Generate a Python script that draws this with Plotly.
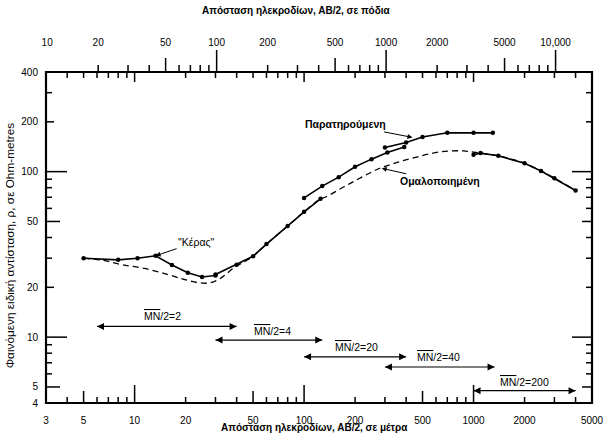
import numpy as np
import plotly.graph_objects as go

# ---------------- data ----------------
# observed apparent resistivity, one segment per MN/2 spacing
seg1_x = [5, 8, 10.4, 13.3, 16.6, 20.6, 25, 30]
seg1_y = [30, 29.3, 30, 31, 27.3, 24.5, 23.1, 23.6]
seg2_x = [30, 40, 50, 60, 80, 100, 125]
seg2_y = [23.9, 27.4, 30.8, 36.5, 46.9, 57.2, 68.5]
seg3_x = [100, 128, 160, 200, 250, 310, 390]
seg3_y = [69.4, 81.8, 92.6, 107, 119, 130.6, 141]
seg4_x = [300, 400, 500, 700, 1000, 1300]
seg4_y = [140, 150, 162, 171.6, 171.6, 171.6]
seg5_x = [1000, 1100, 1400, 2000, 2500, 3000, 4000]
seg5_y = [126.4, 129.4, 124.7, 112.3, 101, 91.3, 77]

# smoothed curve
smooth_x = [5, 6.5, 8.4, 11.5, 15.7, 19.7, 24, 28, 32, 38.5, 45, 50, 60, 80, 100, 125,
            134, 171, 219, 280, 358, 468, 640, 875, 950, 1100, 1400, 2000, 2500, 3000, 4000]
smooth_y = [30, 29.1, 27.4, 26.0, 23.9, 22.3, 21.3, 21.3, 22.6, 26.2, 28.8, 30.8, 36.5, 46.9, 57.2, 68.5,
            70.3, 80.7, 92.6, 104.8, 114, 123, 131.7, 133.6, 132, 129.4, 124.7, 112.3, 101, 91.3, 77]

# MN/2 spacing ranges
mn_names = ["2", "4", "20", "40", "200"]
mn_start = [6, 30, 100, 300, 1000]
mn_end = [40, 128, 400, 1330, 4000]
mn_level = [11.6, 9.6, 7.6, 6.6, 4.75]

# tick labels and tick positions
xm_ticks = [3, 5, 10, 20, 50, 100, 200, 500, 1000, 2000, 5000]
xm_text = ["3", "5", "10", "20", "50", "100", "200", "500", "1000", "2000", "5000"]
xm_decade = [10, 100, 1000]
xm_five = [5, 50, 500]
xm_small = [4, 6, 7, 8, 9, 20, 30, 40, 60, 70, 80, 90, 200, 300, 400, 600, 700, 800,
            900, 2000, 3000, 4000]
xf_ticks = [10, 20, 50, 100, 200, 500, 1000, 2000, 5000, 10000]
xf_text = ["10", "20", "50", "100", "200", "500", "1000", "2000", "5000", "10,000"]
xf_decade = [100, 1000, 10000]
xf_five = [50, 500, 5000]
xf_small = [20, 30, 40, 60, 70, 80, 90, 200, 300, 400, 600, 700, 800, 900, 2000, 3000,
            4000, 6000, 7000, 8000, 9000]
y_ticks = [4, 5, 10, 20, 50, 100, 200, 400]
y_text = ["4", "5", "10", "20", "50", "100", "200", "400"]
y_decade = [10, 100]
y_five = [5, 50]
y_two = [20, 200]
y_small = [6, 7, 8, 9, 30, 40, 60, 70, 80, 90, 300]

FT = 0.3048
L = np.log10
FONT = "Liberation Sans, Arial, sans-serif"
X_LO, X_HI = 3, 5000
F_LO, F_HI = 3 / FT, 5000 / FT
Y_LO, Y_HI = 4, 400

fig = go.Figure()

fig.add_trace(go.Scatter(x=smooth_x, y=smooth_y, mode="lines",
                         line=dict(color="black", width=1.3, dash="6px,4px"),
                         line_shape="spline"))
for sx, sy in [(seg1_x, seg1_y), (seg2_x, seg2_y), (seg3_x, seg3_y),
               (seg4_x, seg4_y), (seg5_x, seg5_y)]:
    fig.add_trace(go.Scatter(x=sx, y=sy, mode="lines+markers",
                             line=dict(color="black", width=1.6),
                             marker=dict(color="black", size=4.5)))

for s, e, lv in zip(mn_start, mn_end, mn_level):
    fig.add_trace(go.Scatter(x=[s, e], y=[lv, lv], mode="lines+markers",
                             line=dict(color="black", width=1.2),
                             marker=dict(symbol=["arrow-left", "arrow-right"], size=7,
                                         color="black")))

# dummy trace so the top (feet) axis exists
fig.add_trace(go.Scatter(x=[None], y=[None], xaxis="x2", yaxis="y", mode="lines"))


def frac(v, lo, hi):
    return (L(v) - L(lo)) / (L(hi) - L(lo))


shapes = []


def xticks(vals, lo, hi, anchor, length, w=1.5):
    for v in vals:
        f = frac(v, lo, hi)
        if 0 < f < 1:
            shapes.append(dict(type="line", xref="paper", yref="paper", x0=f, x1=f,
                               ysizemode="pixel", yanchor=anchor, y0=0, y1=length,
                               line=dict(color="black", width=w), layer="above"))


def yticks(vals, lo, hi, anchor, length, w=1.5):
    for v in vals:
        f = frac(v, lo, hi)
        if 0 < f < 1:
            shapes.append(dict(type="line", xref="paper", yref="paper", y0=f, y1=f,
                               xsizemode="pixel", xanchor=anchor, x0=0, x1=length,
                               line=dict(color="black", width=w), layer="above"))


# bottom (metres), pointing up into the plot
xticks(xm_decade, X_LO, X_HI, 0, 18)
xticks(xm_five, X_LO, X_HI, 0, 12)
xticks(xm_small, X_LO, X_HI, 0, 6)
# metres mirrored on top, pointing down
xticks(xm_decade, X_LO, X_HI, 1, -10)
xticks(xm_five + xm_small, X_LO, X_HI, 1, -6)
# top (feet), pointing up out of the plot
xticks(xf_decade, F_LO, F_HI, 1, 22)
xticks(xf_five, F_LO, F_HI, 1, 14)
xticks(xf_small, F_LO, F_HI, 1, 7)
# left, pointing right
yticks(y_decade, Y_LO, Y_HI, 0, 21)
yticks(y_five, Y_LO, Y_HI, 0, 14)
yticks(y_two, Y_LO, Y_HI, 0, 8)
yticks(y_small, Y_LO, Y_HI, 0, 6)
# right, pointing left
yticks(y_decade, Y_LO, Y_HI, 1, -20)
yticks(y_five, Y_LO, Y_HI, 1, -10)
yticks(y_two + y_small, Y_LO, Y_HI, 1, -6)
# frame
shapes.append(dict(type="rect", xref="paper", yref="paper", x0=0, x1=1, y0=0, y1=1,
                   line=dict(color="black", width=2.2), layer="above"))

tf = dict(family=FONT, size=10, color="black")
base = dict(type="log", showgrid=False, zeroline=False, tickmode="array", showline=False)

fig.update_layout(
    width=616, height=438,
    margin=dict(l=46, r=16, t=72, b=31),
    plot_bgcolor="white",
    showlegend=False,
    hovermode=False,
    xaxis=dict(**base, range=[L(X_LO), L(X_HI)], anchor="y", side="bottom",
               ticks="outside", ticklen=8, tickcolor="rgba(0,0,0,0)",
               tickvals=xm_ticks, ticktext=xm_text, tickfont=tf),
    xaxis2=dict(**base, range=[L(F_LO), L(F_HI)], overlaying="x", anchor="y",
                side="top", ticks="outside", ticklen=21, tickcolor="rgba(0,0,0,0)",
                tickvals=xf_ticks, ticktext=xf_text, tickfont=tf),
    yaxis=dict(**base, range=[L(Y_LO), L(Y_HI)], anchor="x", side="left",
               ticks="outside", ticklen=5, tickcolor="rgba(0,0,0,0)",
               tickvals=y_ticks, ticktext=y_text, tickfont=tf),
    shapes=shapes,
)

ann = []
# axis titles
ann.append(dict(text="Απόσταση ηλεκροδίων, ΑΒ/2, σε πόδια", xref="paper", yref="paper",
                x=0.458, y=1.185, xanchor="center", yanchor="middle", showarrow=False,
                font=dict(family=FONT, size=10, color="black", weight="bold")))
ann.append(dict(text="Απόσταση ηλεκροδίων, ΑΒ/2, σε μέτρα", xref="paper", yref="paper",
                x=0.491, y=-0.0746, xanchor="center", yanchor="middle", showarrow=False,
                font=dict(family=FONT, size=10, color="black", weight="bold")))
ann.append(dict(text="Φαινόμενη ειδική αντίσταση, ρ, σε Ohm-metres", xref="paper",
                yref="paper", x=-0.0668, y=0.475, xanchor="center", yanchor="middle",
                showarrow=False, textangle=-90,
                font=dict(family=FONT, size=11.8, color="black")))
# curve labels
ann.append(dict(text="\"Κέρας\"", x=L(13.3), y=L(31), ax=41, ay=-14, showarrow=True,
                arrowhead=2, arrowsize=1, arrowwidth=1, arrowcolor="black",
                font=dict(family=FONT, size=10.5, color="black")))
ann.append(dict(text="Παρατηρούμενη", x=L(436), y=L(161), ax=-67, ay=-13,
                showarrow=True, arrowhead=2, arrowsize=1, arrowwidth=1,
                arrowcolor="black",
                font=dict(family=FONT, size=10.5, color="black", weight="bold")))
ann.append(dict(text="Ομαλοποιημένη", x=L(287), y=L(104.8), ax=58, ay=13,
                showarrow=True, arrowhead=2, arrowsize=1, arrowwidth=1,
                arrowcolor="black",
                font=dict(family=FONT, size=10.5, color="black", weight="bold")))
# MN labels
mn_lab_pos = [(14.7, 13.4), (64.8, 10.9), (203, 8.73), (625, 7.6), (2008, 5.35)]
for name, (px, py) in zip(mn_names, mn_lab_pos):
    ann.append(dict(text="<span style=\"text-decoration:overline\">MN</span>/2=" + name,
                    x=L(px), y=L(py), showarrow=False,
                    font=dict(family=FONT, size=10.5, color="black")))
fig.update_layout(annotations=ann)

fig.write_html("out.html")
